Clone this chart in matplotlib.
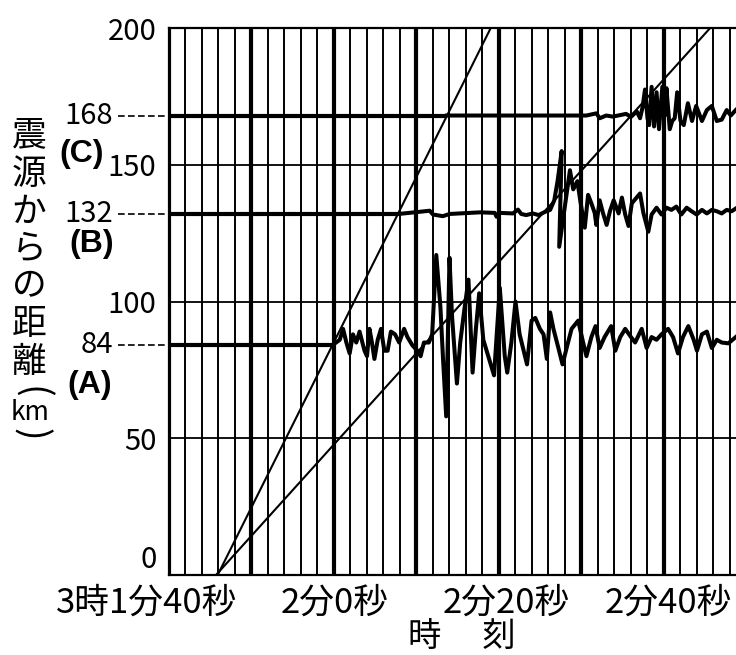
import matplotlib
matplotlib.use("Agg")
import matplotlib.pyplot as plt
from matplotlib.ticker import MultipleLocator
from matplotlib import transforms

plt.rcParams['font.family'] = ['Noto Sans CJK JP', 'DejaVu Sans']

# time axis: seconds after 3:01:40
station_names = ['(A)', '(B)', '(C)']
station_km = [84, 132, 168]
p_arrival = [19.8, 27.8, 33.7]

# P / S travel-time lines
p_line_t = [5.9, 39.0]
p_line_km = [0, 200]
s_line_t = [5.7, 65.6]
s_line_km = [0, 200]

trace_a_t = [19.8, 20.7, 21.1, 21.5, 21.9, 22.3, 22.7, 23.1, 23.7, 24.0, 24.3, 24.6,
             24.9, 25.3, 25.7, 26.1, 26.5, 26.9, 27.4, 27.9, 28.5, 28.9, 29.5, 30.1,
             30.5, 30.9, 31.5, 31.9, 32.4, 32.9, 33.2, 33.6, 34.0, 34.3, 34.9, 35.3,
             35.8, 36.3, 36.8, 37.2, 37.6, 38.1, 38.7, 39.4, 40.1, 40.7, 41.0, 41.5,
             42.0, 42.5, 43.4, 43.95, 44.4, 44.96, 45.4, 45.8, 46.2, 46.6, 47.2, 47.7,
             48.2, 48.8, 49.6, 50.2, 50.6, 51.2, 51.7, 52.2, 52.8, 53.6, 54.1, 54.7,
             55.3, 56.0, 56.5, 57.3, 57.9, 58.5, 59.1, 59.7, 60.5, 61.1, 61.7, 62.3,
             62.95, 63.6, 64.0, 64.6, 65.2, 65.8, 66.4, 67.0, 67.8, 68.7]
trace_a_km = [84, 86, 90, 85, 81, 88, 85, 89, 82, 80, 90, 85,
              79, 86, 90, 82, 82, 89, 88, 85, 90, 87, 84, 82,
              80, 85, 85, 88, 117, 98, 80, 58, 116, 95, 70, 85,
              97, 108, 74, 90, 103, 86, 80, 73, 105, 80, 74, 85,
              100, 88, 77, 93, 94, 90, 88, 79, 96, 90, 83, 77,
              83, 90, 93, 85, 80, 87, 91, 83, 87, 91, 82, 87,
              90, 87, 85, 90, 83, 87, 86, 88, 90, 87, 81, 87,
              91, 86, 82, 88, 89, 83, 86, 85, 84.7, 87]

trace_b_t = [27.8, 30.4, 31.6, 32.0, 33.2, 34.0, 37.7, 39.5, 39.7, 40.1, 41.7, 42.3,
             42.7, 43.3, 44.1, 44.8, 45.6, 46.2, 46.7, 47.1, 47.6, 47.3, 48.6, 49.0,
             49.5, 49.9, 50.4, 50.8, 51.2, 51.6, 51.8, 52.2, 52.6, 53.05, 53.45, 53.9,
             54.5, 54.9, 55.3, 55.7, 56.1, 57.1, 57.5, 58.1, 58.5, 59.1, 59.7, 60.3,
             60.9, 61.5, 62.1, 62.75, 63.35, 63.96, 64.6, 65.2, 65.8, 66.4, 67.0, 67.6,
             68.2, 68.7]
trace_b_km = [132, 132.8, 133.2, 131.8, 131.2, 132, 132.6, 132.4, 131, 132.4, 132.2, 133.6,
              132, 131.6, 132.2, 131.6, 132.8, 133.5, 137, 144, 155, 120, 148, 141,
              144, 136, 127, 139, 135.9, 132.4, 128, 137, 132.4, 128, 133, 137,
              132.2, 138, 131.8, 127.6, 135.9, 139.5, 132.4, 125.5, 131.8, 134.3, 131.8, 134.3,
              133.5, 134.7, 131.8, 134.3, 133, 131.8, 133.5, 132.2, 133.5, 133, 132.2, 133.5,
              133, 134]

trace_c_t = [33.7, 50.6, 51.8, 52.2, 53.0, 53.8, 55.4, 56.0, 56.7, 57.1, 57.4, 57.7,
             58.0, 58.2, 58.5, 58.8, 59.1, 59.4, 59.8, 60.1, 60.3, 60.7, 61.0, 61.3,
             61.6, 62.0, 62.4, 62.9, 63.4, 63.9, 64.6, 65.2, 65.8, 66.4, 67.0, 67.6,
             68.1, 68.7]
trace_c_km = [168, 168, 168.8, 167, 168, 167.6, 168.6, 167.5, 169.5, 167, 171, 177.5,
              167, 164.5, 178.5, 164, 176.5, 163, 178.5, 168, 178, 163, 166, 167,
              176.5, 166, 164.5, 172.5, 166, 171.5, 166, 170, 171.5, 166, 166.5, 170,
              168, 170]

traces_t = [trace_a_t, trace_b_t, trace_c_t]
traces_km = [trace_a_km, trace_b_km, trace_c_km]

y_ticks = [0, 50, 100, 150, 200]
time_labels = ['3時1分40秒', '2分0秒', '2分20秒', '2分40秒']
ylabel_chars = ['震', '源', 'か', 'ら', 'の', '距', '離']

W, H = 736, 655
fig = plt.figure(figsize=(W / 100, H / 100), dpi=100)
ax = fig.add_axes([169 / W, 80 / H, 567 / W, 547 / H])
ax.set_xlim(0, 68.73)
ax.set_ylim(0, 200)

# grid: thin every 2 s, thick every 10 s
ax.xaxis.set_major_locator(MultipleLocator(10))
ax.xaxis.set_minor_locator(MultipleLocator(2))
ax.set_yticks(y_ticks)
ax.set_axisbelow(True)
ax.grid(axis='x', which='major', color='black', lw=3.0)
ax.grid(axis='x', which='minor', color='black', lw=1.4)
ax.grid(axis='y', which='major', color='black', lw=1.3)
ax.tick_params(which='both', length=0)
ax.tick_params(axis='x', labelbottom=False)
ax.tick_params(axis='y', pad=9, labelsize=21)
ax.set_yticklabels([str(v) for v in y_ticks])
ax.get_yticklabels()[0].set_va('bottom')
ax.spines['right'].set_visible(False)
for s in ['left', 'bottom', 'top']:
    ax.spines[s].set_linewidth(1.6)

# travel-time lines
ax.plot(p_line_t, p_line_km, color='black', lw=1.5)
ax.plot(s_line_t, s_line_km, color='black', lw=1.5)

# seismograms
for km, t0, tt, kk in zip(station_km, p_arrival, traces_t, traces_km):
    ax.plot([0, t0], [km, km], color='black', lw=3.0, solid_capstyle='butt')
    ax.plot(tt, kk, color='black', lw=2.9, solid_joinstyle='round')

# station labels left of the axes
trans = transforms.blended_transform_factory(fig.transFigure, ax.transData)
for km in station_km:
    ax.plot([118 / W, 167 / W], [km, km], transform=trans, clip_on=False,
            color='black', lw=1.2, ls=(0, (4, 2)))
    ax.text(113 / W, km, str(km), transform=trans, ha='right', va='center', fontsize=21)

name_x = [90, 92, 82]
name_km = [69.5, 121, 154]
for name, nx, nk in zip(station_names, name_x, name_km):
    ax.text(nx / W, nk, name, transform=trans, ha='center', va='center',
            fontsize=23, fontweight='bold', family='Liberation Sans')

# vertical y label
for i, ch in enumerate(ylabel_chars):
    fig.text(29 / W, 1 - (137 + i * 37.5) / H, ch, ha='center', va='center', fontsize=25)
fig.text(30 / W, 1 - 392 / H, '(', rotation=270, ha='center', va='center', fontsize=27)
fig.text(30 / W, 1 - 412 / H, 'km', ha='center', va='center', fontsize=19)
fig.text(30 / W, 1 - 434 / H, ')', rotation=270, ha='center', va='center', fontsize=27)

# time labels
label_x = [147, 335, 506]
for lab, lx in zip(time_labels[:3], label_x):
    fig.text(lx / W, 1 - 603 / H, lab, ha='center', va='center', fontsize=25)
fig.text(605 / W, 1 - 603 / H, time_labels[3], ha='left', va='center', fontsize=25)
fig.text(462 / W, 1 - 636 / H, '時　 刻', ha='center', va='center', fontsize=24)

fig.savefig('out.png', dpi=100)
